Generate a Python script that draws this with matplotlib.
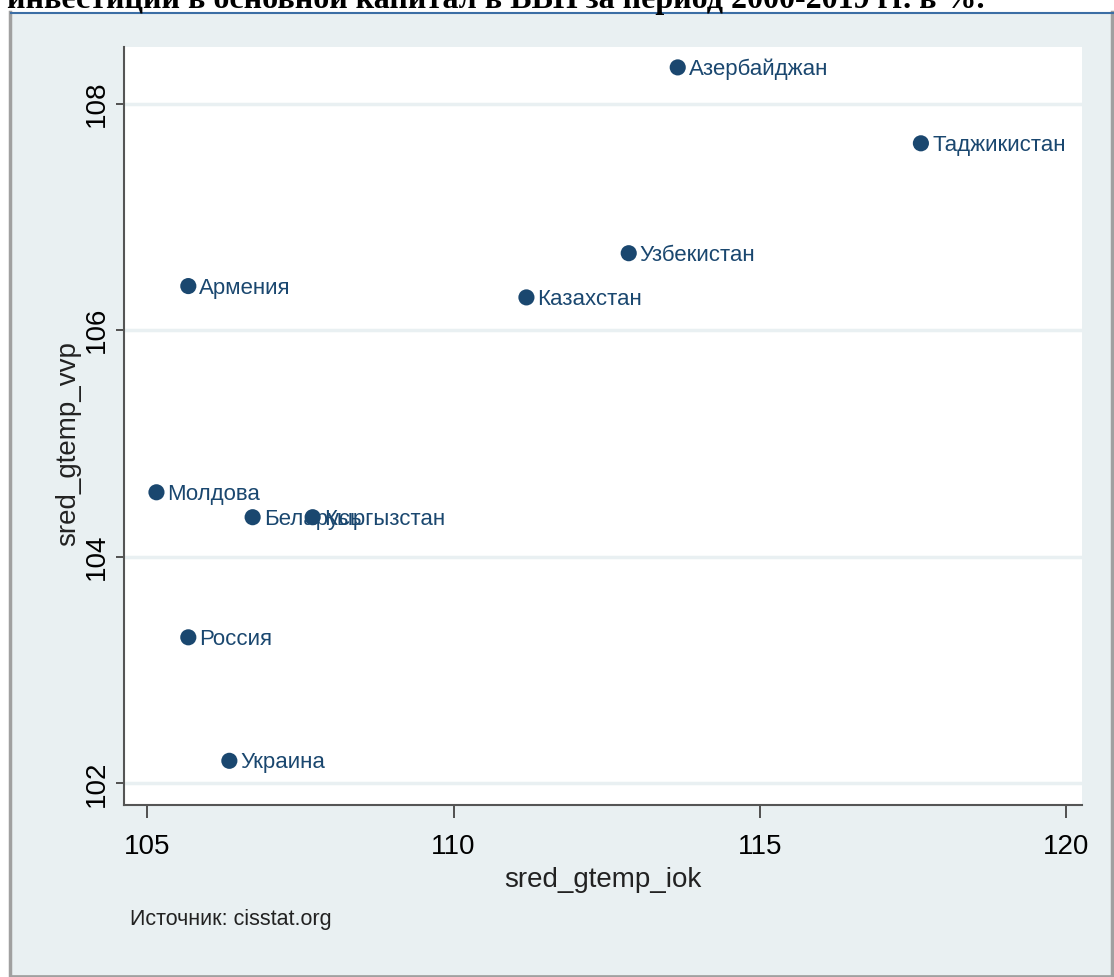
import matplotlib
matplotlib.use('Agg')
import matplotlib.pyplot as plt
from matplotlib.patches import Rectangle
from matplotlib.lines import Line2D

# средние темпы роста: инвестиции в основной капитал (x) и ВВП (y), %
countries = ['Азербайджан', 'Таджикистан', 'Узбекистан', 'Армения', 'Казахстан',
             'Молдова', 'Беларусь', 'Кыргызстан', 'Россия', 'Украина']
sred_gtemp_iok = [113.66, 117.63, 112.86, 105.67, 111.19,
                  105.15, 106.72, 107.70, 105.67, 106.34]
sred_gtemp_vvp = [108.32, 107.65, 106.68, 106.39, 106.29,
                  104.57, 104.35, 104.35, 103.29, 102.20]
xticks = [105, 110, 115, 120]
yticks = [102, 104, 106, 108]

W, H = 1114, 977
navy = '#1a476f'
bg = '#e9f0f2'

plt.rcParams['font.family'] = ['Liberation Sans', 'DejaVu Sans']
fig = plt.figure(figsize=(W / 100, H / 100), dpi=100)
fig.patch.set_facecolor('white')

def px(x, y):
    return x / W, 1 - y / H

# фон области графика и рамка скриншота
x0, y0 = px(11, 975)
fig.add_artist(Rectangle((x0, y0), 1100 / W, 962 / H, transform=fig.transFigure,
                         facecolor=bg, edgecolor='none', zorder=0))
fig.add_artist(Line2D([9.5 / W, 9.5 / W], [1 - 12 / H, 0], transform=fig.transFigure,
                      color='#a0a0a0', lw=2.5))
fig.add_artist(Line2D([1111.5 / W, 1111.5 / W], [1 - 12 / H, 0], transform=fig.transFigure,
                      color='#a0a0a0', lw=2.5))
fig.add_artist(Line2D([11 / W, 1 ], [1 - 975.5 / H, 1 - 975.5 / H], transform=fig.transFigure,
                      color='#a0a0a0', lw=2))
fig.add_artist(Line2D([11 / W, 1], [1 - 12.5 / H, 1 - 12.5 / H], transform=fig.transFigure,
                      color='#3b6ea5', lw=1.5))

# обрезанный заголовок
tx, ty = px(7, 8)
fig.text(tx, ty, 'инвестиций в основной капитал в ВВП за период 2000-2019 гг. в %.',
         family='Liberation Serif', weight='bold', fontsize=23, ha='left',
         va='baseline', color='black')

left, top = px(124, 47)
right, bottom = px(1082, 805)
ax = fig.add_axes([left, bottom, right - left, top - bottom])
ax.set_facecolor('white')
ax.set_xlim(104.62, 120.26)
ax.set_ylim(101.81, 108.50)

for yt in yticks:
    ax.axhline(yt, color=bg, lw=2.5, zorder=1)

ax.scatter(sred_gtemp_iok, sred_gtemp_vvp, s=135, color=navy, zorder=3,
           edgecolors='none')
for name, xv, yv in zip(countries, sred_gtemp_iok, sred_gtemp_vvp):
    ax.annotate(name, (xv, yv), xytext=(8, -1.5), textcoords='offset points',
                ha='left', va='center', fontsize=16, color=navy, zorder=4)

for s in ['top', 'right']:
    ax.spines[s].set_visible(False)
for s in ['left', 'bottom']:
    ax.spines[s].set_color('#555555')
    ax.spines[s].set_linewidth(1.5)

ax.set_xticks(xticks)
ax.set_yticks(yticks)
ax.set_yticklabels([str(v) for v in yticks], rotation=90, va='center')
ax.tick_params(axis='x', length=9, width=1.3, color='#444444', pad=12,
               labelsize=20)
ax.tick_params(axis='y', length=6, width=1.3, color='#444444', pad=4,
               labelsize=20)

lx, ly = px(603, 880)
fig.text(lx, ly, 'sred_gtemp_iok', fontsize=20, ha='center', va='center',
         color='#222222')
yx, yy = px(68, 444)
fig.text(yx, yy, 'sred_gtemp_vvp', fontsize=20, ha='center', va='center',
         rotation=90, color='#222222')
sx, sy = px(130, 920)
fig.text(sx, sy, 'Источник: cisstat.org', fontsize=15.5, ha='left', va='center',
         color='#222222')

fig.savefig('out.png', dpi=100)
